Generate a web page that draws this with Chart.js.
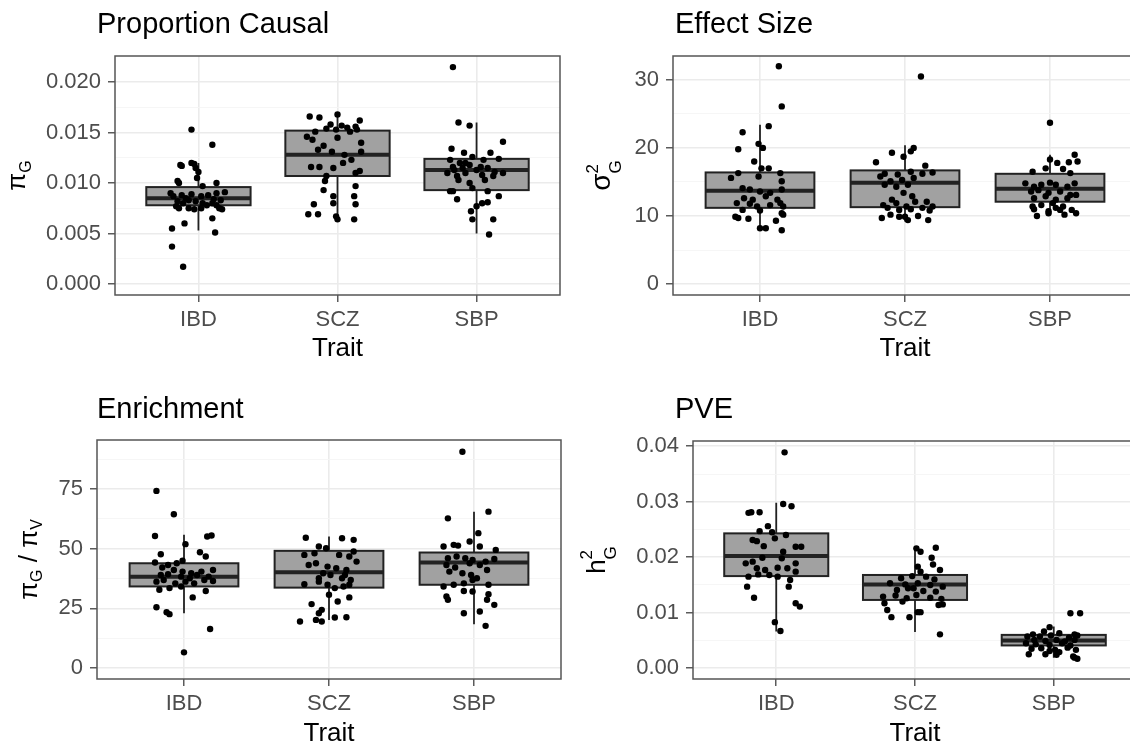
<!DOCTYPE html>
<html>
<head>
<meta charset="utf-8">
<script src="https://cdn.jsdelivr.net/npm/chart.js"></script>
<style>
  html, body { margin: 0; padding: 0; background: #fff; overflow: hidden; width: 1130px; height: 749px; }
  .panel { position: absolute; }
</style>
</head>
<body>
<div class="panel" style="left:0;top:0"><canvas id="causal" width="565" height="375"></canvas></div>
<div class="panel" style="left:565px;top:0"><canvas id="effect" width="580" height="375"></canvas></div>
<div class="panel" style="left:0;top:375px"><canvas id="enrich" width="565" height="374"></canvas></div>
<div class="panel" style="left:565px;top:375px"><canvas id="pve" width="580" height="374"></canvas></div>
<script>
var traits = ["IBD", "SCZ", "SBP"];

// box stats per trait: [lower whisker, q1, median, q3, upper whisker]
var causalBoxes = [[0.0053, 0.0078, 0.0085, 0.0096, 0.0120], [0.0064, 0.0107, 0.0128, 0.0152, 0.0167], [0.0050, 0.0093, 0.0113, 0.0124, 0.0160]];
var effectBoxes = [[8.0, 11.2, 13.7, 16.4, 23.4], [9.2, 11.3, 14.9, 16.7, 20.4], [10.4, 12.1, 14.0, 16.2, 19.0]];
var enrichBoxes = [[23.0, 34.2, 38.3, 43.9, 55.8], [20.2, 33.7, 40.1, 49.1, 55.1], [18.4, 34.9, 44.2, 48.4, 65.5]];
var pveBoxes = [[0.0066, 0.0166, 0.0202, 0.0243, 0.0298], [0.0065, 0.0123, 0.0151, 0.0168, 0.0217], [0.0019, 0.0041, 0.0050, 0.0060, 0.0075]];

// jittered points: [jitter offset in category units, value]
var causalIBD = [[-0.05,0.0153],[0.10,0.0138],[-0.13,0.0118],[-0.12,0.0117],[-0.05,0.0120],[-0.03,0.0119],[-0.02,0.0115],[0.00,0.0111],[-0.15,0.0102],[-0.14,0.0100],[0.13,0.0100],[-0.01,0.0105],[0.03,0.0097],[-0.20,0.0090],[0.19,0.0091],[-0.18,0.0087],[-0.12,0.0088],[-0.09,0.0085],[-0.05,0.0089],[0.02,0.0087],[0.07,0.0088],[0.11,0.0084],[0.13,0.0090],[0.16,0.0083],[-0.15,0.0082],[-0.11,0.0080],[-0.07,0.0083],[-0.02,0.0082],[0.03,0.0080],[0.10,0.0080],[0.13,0.0078],[0.17,0.0074],[-0.16,0.0077],[-0.14,0.0075],[-0.07,0.0075],[-0.03,0.0074],[0.02,0.0075],[0.06,0.0078],[0.15,0.0075],[-0.10,0.0060],[0.10,0.0065],[-0.19,0.0055],[0.12,0.0051],[-0.19,0.0037],[-0.11,0.0017]];
var causalSCZ = [[-0.20,0.0166],[-0.13,0.0165],[0.00,0.0168],[-0.05,0.0158],[0.03,0.0157],[0.07,0.0155],[0.13,0.0156],[0.16,0.0162],[-0.16,0.0151],[-0.08,0.0154],[-0.01,0.0153],[0.09,0.0151],[0.14,0.0153],[-0.22,0.0146],[-0.18,0.0143],[-0.10,0.0137],[0.00,0.0145],[0.17,0.0140],[-0.14,0.0133],[-0.04,0.0131],[0.05,0.0128],[0.10,0.0123],[0.17,0.0131],[-0.19,0.0116],[-0.13,0.0116],[-0.03,0.0115],[0.04,0.0120],[-0.08,0.0107],[0.13,0.0110],[0.16,0.0112],[-0.09,0.0102],[0.13,0.0097],[-0.10,0.0093],[-0.03,0.0087],[0.12,0.0087],[-0.03,0.0080],[0.13,0.0079],[-0.17,0.0079],[-0.21,0.0069],[-0.14,0.0069],[-0.01,0.0067],[0.00,0.0064],[0.12,0.0064]];
var causalSBP = [[-0.17,0.0215],[-0.13,0.0160],[-0.05,0.0157],[0.19,0.0141],[-0.18,0.0134],[-0.09,0.0130],[-0.03,0.0126],[0.10,0.0130],[-0.19,0.0123],[-0.12,0.0120],[-0.05,0.0118],[0.05,0.0123],[0.16,0.0124],[-0.17,0.0116],[-0.10,0.0115],[0.00,0.0113],[0.08,0.0115],[0.13,0.0111],[-0.21,0.0110],[-0.14,0.0107],[-0.08,0.0110],[0.04,0.0108],[0.12,0.0107],[-0.13,0.0103],[-0.19,0.0092],[-0.17,0.0092],[-0.03,0.0095],[0.08,0.0092],[-0.14,0.0084],[0.16,0.0087],[0.00,0.0077],[0.04,0.0080],[0.08,0.0081],[-0.04,0.0072],[-0.03,0.0064],[0.12,0.0064],[0.09,0.0049],[-0.08,0.0120],[0.03,0.0116],[-0.16,0.0113],[0.06,0.0103],[-0.05,0.0100],[0.19,0.0110]];

var effectIBD = [[0.13,32.0],[0.15,26.1],[0.06,23.2],[-0.12,22.3],[-0.15,19.8],[-0.01,20.6],[0.02,20.0],[-0.04,18.0],[0.01,17.0],[0.06,17.0],[-0.20,15.6],[-0.15,16.3],[-0.01,15.8],[0.14,16.3],[0.15,15.1],[-0.12,14.1],[-0.07,13.9],[0.00,13.6],[0.07,13.4],[0.15,13.9],[-0.11,12.6],[-0.05,12.4],[0.04,12.9],[0.12,12.4],[-0.16,11.9],[-0.07,11.8],[-0.02,11.4],[0.07,11.6],[0.14,11.9],[0.16,11.4],[-0.12,10.9],[0.00,10.8],[0.15,10.4],[-0.17,9.9],[-0.15,9.7],[-0.08,9.6],[0.11,9.3],[0.16,10.2],[0.00,8.2],[0.04,8.2],[0.15,7.9]];
var effectSCZ = [[0.11,30.5],[0.06,20.0],[0.04,19.5],[-0.09,19.3],[-0.01,18.7],[-0.20,17.9],[0.14,17.4],[-0.14,16.2],[-0.05,16.1],[0.04,16.5],[0.19,16.4],[0.12,16.2],[-0.17,15.8],[-0.10,15.1],[-0.02,15.3],[0.06,15.6],[-0.14,14.6],[-0.06,14.3],[0.02,14.6],[-0.01,13.4],[-0.09,12.4],[0.05,12.9],[0.15,12.1],[-0.15,11.6],[-0.06,11.9],[0.01,11.4],[0.07,12.1],[0.19,11.4],[-0.12,11.2],[-0.04,10.9],[0.04,11.0],[0.12,11.2],[0.17,10.8],[-0.16,9.7],[-0.10,10.2],[-0.04,9.9],[0.02,9.4],[0.09,10.0],[0.16,9.4],[0.00,9.9]];
var effectSBP = [[0.00,23.7],[0.17,19.0],[0.00,18.3],[0.05,17.8],[0.13,17.9],[0.19,18.0],[-0.12,16.5],[-0.03,17.0],[0.09,16.9],[0.14,16.3],[-0.17,14.8],[-0.11,14.3],[-0.06,14.6],[0.00,14.9],[0.04,14.6],[0.12,14.3],[0.17,14.8],[-0.13,13.6],[-0.08,13.8],[-0.01,13.4],[0.07,13.6],[0.14,13.1],[0.18,13.1],[-0.11,12.6],[-0.03,12.9],[0.04,12.4],[0.12,12.6],[-0.12,11.4],[-0.06,11.6],[0.02,11.9],[0.09,11.4],[0.15,10.9],[-0.11,11.0],[-0.01,10.7],[0.07,10.9],[-0.09,10.0],[-0.01,10.4],[0.10,10.2],[0.18,10.4],[0.04,11.2]];

var enrichIBD = [[-0.19,74.2],[-0.07,64.4],[-0.20,55.3],[0.01,51.9],[0.19,55.5],[0.16,55.1],[0.11,48.5],[-0.16,47.7],[0.15,46.7],[-0.01,45.0],[-0.20,44.2],[-0.11,43.2],[-0.05,43.9],[-0.15,42.1],[-0.07,41.1],[-0.01,40.4],[0.05,39.7],[0.12,40.4],[0.20,41.1],[-0.16,39.0],[-0.11,39.3],[-0.02,38.3],[0.04,37.6],[0.09,39.0],[0.17,38.3],[-0.19,36.2],[-0.14,36.9],[-0.06,35.5],[0.01,36.2],[0.07,35.5],[0.14,36.9],[0.20,36.5],[-0.17,32.8],[-0.10,33.5],[-0.02,34.2],[0.15,32.3],[0.06,29.6],[-0.19,25.5],[-0.12,23.4],[-0.10,22.6],[0.18,16.4],[0.00,6.6]];
var enrichSCZ = [[-0.16,54.6],[-0.07,50.9],[-0.10,48.1],[-0.17,47.4],[-0.02,50.2],[0.09,54.4],[0.17,53.7],[0.07,47.4],[0.14,46.7],[0.17,48.8],[0.19,44.6],[-0.14,43.2],[-0.09,43.9],[-0.01,42.5],[0.05,41.8],[0.12,41.1],[-0.04,39.7],[0.01,39.0],[0.11,39.0],[-0.07,37.6],[0.09,37.6],[0.15,36.9],[-0.17,35.1],[-0.07,36.2],[-0.01,34.9],[0.04,33.5],[0.10,34.2],[0.14,34.9],[0.00,30.7],[0.14,29.6],[0.06,27.9],[-0.12,26.8],[-0.05,24.4],[-0.07,23.0],[-0.09,20.2],[-0.05,19.5],[-0.20,19.5],[0.04,21.2],[0.12,21.3]];
var enrichSBP = [[-0.08,90.6],[0.10,65.5],[-0.18,62.7],[0.03,56.5],[-0.03,53.0],[-0.21,50.9],[-0.14,51.6],[-0.11,51.3],[0.04,50.9],[0.15,49.5],[-0.18,46.0],[-0.12,46.7],[-0.06,46.0],[-0.01,45.3],[0.08,44.6],[0.14,45.7],[-0.19,43.2],[-0.13,42.1],[-0.03,43.9],[0.04,43.2],[0.09,41.1],[-0.17,40.4],[-0.08,39.7],[-0.02,39.0],[0.02,37.6],[-0.07,35.5],[-0.01,36.9],[0.10,34.9],[-0.21,34.2],[-0.14,34.9],[-0.07,32.3],[0.10,30.9],[-0.19,30.0],[-0.18,28.6],[0.09,28.6],[0.14,26.5],[-0.07,23.0],[0.04,23.7],[0.08,17.7],[-0.01,32.1]];

var pveIBD = [[0.06,0.0389],[0.05,0.0296],[0.11,0.0292],[-0.20,0.0280],[-0.18,0.0281],[-0.12,0.0281],[-0.06,0.0256],[-0.12,0.0247],[-0.03,0.0245],[0.07,0.0240],[-0.17,0.0231],[-0.14,0.0229],[-0.09,0.0220],[-0.01,0.0234],[0.14,0.0219],[0.18,0.0219],[0.05,0.0210],[-0.22,0.0189],[-0.17,0.0192],[-0.10,0.0199],[0.04,0.0198],[0.14,0.0189],[-0.14,0.0180],[-0.08,0.0177],[0.01,0.0181],[0.08,0.0180],[0.14,0.0174],[-0.20,0.0165],[-0.13,0.0169],[-0.05,0.0168],[0.01,0.0165],[0.10,0.0159],[-0.21,0.0147],[0.09,0.0147],[-0.16,0.0127],[0.14,0.0117],[0.17,0.0111],[-0.01,0.0083],[0.03,0.0067]];
var pveSCZ = [[0.15,0.0217],[0.01,0.0216],[0.04,0.0210],[0.12,0.0199],[0.02,0.0183],[0.13,0.0187],[0.18,0.0177],[0.04,0.0174],[-0.10,0.0162],[-0.02,0.0166],[0.08,0.0165],[0.14,0.0160],[-0.18,0.0153],[-0.07,0.0151],[0.02,0.0153],[0.11,0.0150],[0.20,0.0147],[-0.13,0.0141],[-0.05,0.0144],[0.06,0.0139],[0.15,0.0138],[-0.23,0.0129],[-0.14,0.0131],[-0.06,0.0126],[0.01,0.0132],[0.11,0.0127],[0.19,0.0125],[-0.22,0.0117],[-0.09,0.0120],[0.17,0.0114],[0.20,0.0115],[-0.20,0.0105],[0.02,0.0101],[0.04,0.0101],[-0.17,0.0092],[-0.04,0.0092],[0.18,0.0061],[-0.01,0.0144]];
var pveSBP = [[0.12,0.0099],[0.19,0.0099],[-0.03,0.0074],[-0.07,0.0066],[-0.15,0.0061],[0.04,0.0063],[0.15,0.0061],[-0.19,0.0057],[-0.10,0.0057],[-0.02,0.0059],[0.11,0.0055],[0.17,0.0059],[-0.14,0.0051],[-0.06,0.0049],[0.02,0.0051],[0.08,0.0048],[0.15,0.0051],[-0.20,0.0045],[-0.13,0.0043],[-0.03,0.0042],[0.06,0.0045],[0.12,0.0041],[-0.16,0.0035],[-0.09,0.0036],[0.01,0.0033],[0.10,0.0037],[0.16,0.0033],[-0.18,0.0025],[-0.06,0.0025],[0.02,0.0024],[0.14,0.0021],[0.17,0.0017],[0.15,0.0019],[-0.03,0.0031],[0.04,0.0029]];

// y-axis ticks (labelled) and minor grid values
var causalTicks = [0, 0.005, 0.010, 0.015, 0.020];
var causalMinor = [0.0025, 0.0075, 0.0125, 0.0175];
var effectTicks = [0, 10, 20, 30];
var effectMinor = [5, 15, 25];
var enrichTicks = [0, 25, 50, 75];
var enrichMinor = [12.5, 37.5, 62.5, 87.5];
var pveTicks = [0, 0.01, 0.02, 0.03, 0.04];
var pveMinor = [0.005, 0.015, 0.025, 0.035];

var FONT = "'Liberation Sans', Arial, Helvetica, sans-serif";
Chart.defaults.font.family = FONT;

// box, whisker and median drawn under the jittered points
var boxPlugin = {
    id: "boxes",
    beforeDatasetsDraw: function(chart) {
        var boxes = chart.options.plugins.boxes.stats;
        if (!boxes) return;
        var xs = chart.scales.x, ys = chart.scales.y, ctx = chart.ctx;
        ctx.save();
        boxes.forEach(function(b, i) {
            var xc = xs.getPixelForValue(i + 1);
            var half = xs.getPixelForValue(i + 1.375) - xc;
            var p = b.map(function(v) { return ys.getPixelForValue(v); });
            ctx.strokeStyle = "#222";
            ctx.lineWidth = 1.8;
            ctx.beginPath();
            ctx.moveTo(xc, p[0]); ctx.lineTo(xc, p[1]);
            ctx.moveTo(xc, p[3]); ctx.lineTo(xc, p[4]);
            ctx.stroke();
            ctx.fillStyle = "#a1a1a1";
            ctx.fillRect(xc - half, p[3], half * 2, p[1] - p[3]);
            ctx.lineWidth = 2;
            ctx.strokeRect(xc - half, p[3], half * 2, p[1] - p[3]);
            ctx.lineWidth = 4;
            ctx.beginPath();
            ctx.moveTo(xc - half, p[2]); ctx.lineTo(xc + half, p[2]);
            ctx.stroke();
        });
        ctx.restore();
    },
    afterDatasetsDraw: function(chart) {
        var a = chart.chartArea, ctx = chart.ctx;
        ctx.save();
        ctx.strokeStyle = "#555";
        ctx.lineWidth = 1.5;
        ctx.strokeRect(a.left, a.top, a.right - a.left, a.bottom - a.top);
        ctx.restore();
    },
    afterDraw: function(chart) {
        var o = chart.options.plugins.boxes, ctx = chart.ctx, a = chart.chartArea;
        ctx.save();
        ctx.fillStyle = "#000";
        ctx.textAlign = "left";
        ctx.textBaseline = "alphabetic";
        ctx.font = "29px " + FONT;
        ctx.fillText(o.title, o.titleX, o.titleY);
        // rotated y label with sub/superscripts
        var widths = o.ylab.map(function(s) {
            ctx.font = s.size + "px " + FONT;
            return ctx.measureText(s.t).width;
        });
        var total = 0;
        o.ylab.forEach(function(s, i) { if (!s.stack) total += widths[i]; });
        ctx.translate(o.ylabX, (a.top + a.bottom) / 2);
        ctx.rotate(-Math.PI / 2);
        var x = -total / 2;
        o.ylab.forEach(function(s, i) {
            ctx.font = s.size + "px " + FONT;
            ctx.fillText(s.t, x, s.dy || 0);
            if (!s.stack) x += widths[i];
        });
        ctx.restore();
    }
};

function makePanel(id, g) {
    var major = g.ticks;
    var isMajor = function(v) { return major.indexOf(v) >= 0; };
    var all = major.concat(g.minor).sort(function(a, b) { return a - b; });
    var datasets = g.points.map(function(pts, i) {
        return {
            data: pts.map(function(p) { return { x: i + 1 + p[0], y: p[1] }; }),
            pointRadius: 3.2,
            pointBackgroundColor: "#000",
            pointBorderWidth: 0,
            pointHoverRadius: 3.2
        };
    });
    return new Chart(document.getElementById(id).getContext("2d"), {
        type: "scatter",
        data: { datasets: datasets },
        options: {
            responsive: false,
            animation: false,
            events: [],
            layout: { padding: { top: g.top, right: g.right, left: 0, bottom: 0 } },
            plugins: {
                legend: { display: false },
                tooltip: { enabled: false },
                boxes: { stats: g.boxes, title: g.title, titleX: g.titleX, titleY: g.titleY, ylab: g.ylab, ylabX: g.ylabX }
            },
            scales: {
                x: {
                    type: "linear",
                    min: 0.4,
                    max: 3.6,
                    afterBuildTicks: function(s) { s.ticks = [1, 2, 3].map(function(v) { return { value: v }; }); },
                    afterFit: function(s) { s.height = g.xHeight; },
                    ticks: {
                        autoSkip: false,
                        maxRotation: 0,
                        padding: 5,
                        color: "#4d4d4d",
                        font: { size: 22 },
                        callback: function(v) { return traits[v - 1]; }
                    },
                    grid: { color: "#ebebeb", lineWidth: 1.6, tickColor: "#333", tickLength: 7, tickWidth: 1.2 },
                    border: { display: false },
                    title: { display: true, text: "Trait", color: "#000", font: { size: 26 }, padding: { top: 0, bottom: g.xTitlePad } }
                },
                y: {
                    type: "linear",
                    min: g.min,
                    max: g.max,
                    afterBuildTicks: function(s) { s.ticks = all.map(function(v) { return { value: v }; }); },
                    afterFit: function(s) { s.width = g.yWidth; },
                    ticks: {
                        autoSkip: false,
                        padding: 7,
                        color: "#4d4d4d",
                        font: { size: 22 },
                        callback: function(v) { return isMajor(v) ? v.toFixed(g.dec) : ""; }
                    },
                    grid: {
                        color: function(c) { return isMajor(c.tick.value) ? "#ebebeb" : "#f5f5f5"; },
                        lineWidth: function(c) { return isMajor(c.tick.value) ? 1.6 : 0.9; },
                        tickColor: function(c) { return isMajor(c.tick.value) ? "#333" : "rgba(0,0,0,0)"; },
                        tickLength: 7,
                        tickWidth: 1.2
                    },
                    border: { display: false }
                }
            }
        },
        plugins: [boxPlugin]
    });
}

makePanel("causal", {
    boxes: causalBoxes, points: [causalIBD, causalSCZ, causalSBP],
    ticks: causalTicks, minor: causalMinor, min: -0.0011, max: 0.0226, dec: 3,
    title: "Proportion Causal", titleX: 97, titleY: 33,
    ylab: [{ t: "\u03c0", size: 26 }, { t: "G", size: 16, dy: 6 }], ylabX: 25,
    top: 56, right: 5, yWidth: 115, xHeight: 80, xTitlePad: 11
});
makePanel("effect", {
    boxes: effectBoxes, points: [effectIBD, effectSCZ, effectSBP],
    ticks: effectTicks, minor: effectMinor, min: -1.6, max: 33.5, dec: 0,
    title: "Effect Size", titleX: 110, titleY: 33,
    ylab: [{ t: "\u03c3", size: 28 }, { t: "2", size: 17, dy: -12, stack: true }, { t: "G", size: 17, dy: 11 }], ylabX: 45,
    top: 56, right: 8, yWidth: 108, xHeight: 80, xTitlePad: 11
});
makePanel("enrich", {
    boxes: enrichBoxes, points: [enrichIBD, enrichSCZ, enrichSBP],
    ticks: enrichTicks, minor: enrichMinor, min: -4.55, max: 95.5, dec: 0,
    title: "Enrichment", titleX: 97, titleY: 43,
    ylab: [{ t: "\u03c0", size: 26 }, { t: "G", size: 16, dy: 5 }, { t: " / ", size: 26 }, { t: "\u03c0", size: 26 }, { t: "V", size: 16, dy: 5 }], ylabX: 37,
    top: 65, right: 4, yWidth: 97, xHeight: 70, xTitlePad: 0
});
makePanel("pve", {
    boxes: pveBoxes, points: [pveIBD, pveSCZ, pveSBP],
    ticks: pveTicks, minor: pveMinor, min: -0.00195, max: 0.04095, dec: 2,
    title: "PVE", titleX: 110, titleY: 43,
    ylab: [{ t: "h", size: 26 }, { t: "2", size: 17, dy: -13, stack: true }, { t: "G", size: 17, dy: 11 }], ylabX: 40,
    top: 66, right: 8, yWidth: 128, xHeight: 70, xTitlePad: 0
});
</script>
</body>
</html>
